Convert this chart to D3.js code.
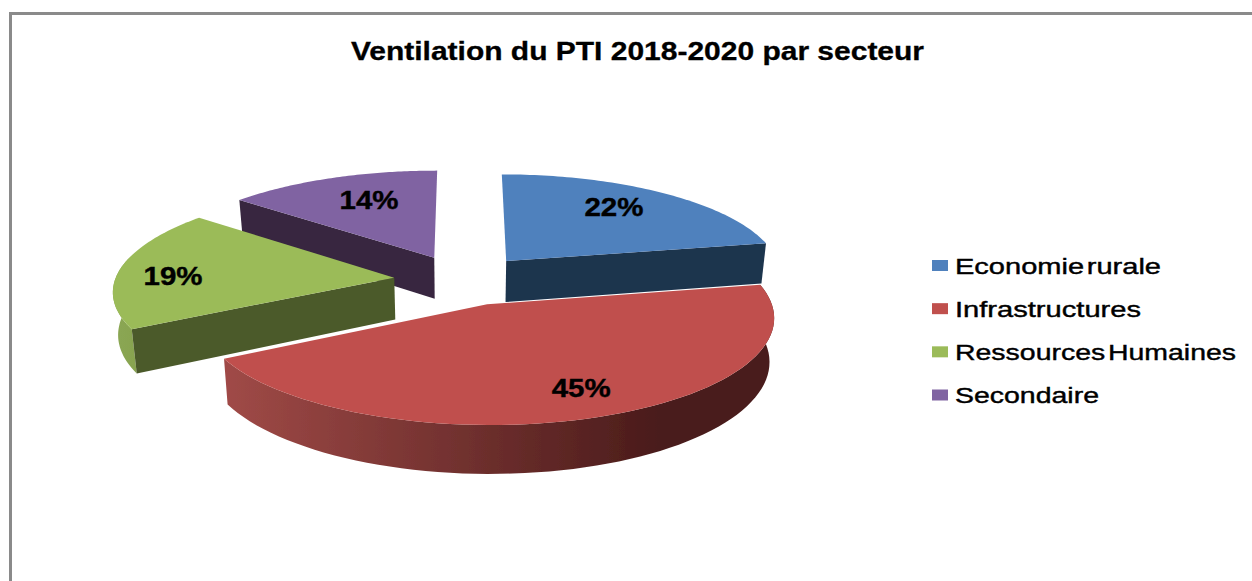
<!DOCTYPE html>
<html><head><meta charset="utf-8">
<script src="https://cdn.jsdelivr.net/npm/d3@7/dist/d3.min.js"></script>
<style>html,body{margin:0;padding:0;background:#fff;overflow:hidden}svg{display:block}text{font-family:"Liberation Sans",Arial,sans-serif;fill:#000}</style>
</head><body><svg id="c" width="1252" height="581"></svg>
<script>
const titleText = "Ventilation du PTI 2018-2020 par secteur";
const categories = ["Economie rurale", "Infrastructures", "Ressources Humaines", "Secondaire"];
const values = [22, 45, 19, 14];
const topColors = ["#4f81bd", "#c0504d", "#9bbb59", "#8064a2"];
const faceColors = ["#1f344e", "#4a1c1b", "#4c5a2a", "#37263f"];
const rimStops = [["#1f344e","#1f344e"], ["#a04a47","#491b1a"], ["#8ba753","#7f9a48"], ["#37263f","#37263f"]];
const labelAngle = [36, 157.6, 271.2, 337.6];
const labelRadius = [0.74, 0.775, 0.803, 0.70];
const sliceRadius = [1, 1, 1.008, 1.015];
const legendTextWidth = [206, 186, 281, 144];

const W = 1252, H = 581;
const svg = d3.select("#c");
const defs = svg.append("defs");
const blur = defs.append("filter").attr("id","soft").attr("x","-5%").attr("y","-5%").attr("width","110%").attr("height","110%");
blur.append("feGaussianBlur").attr("stdDeviation",0.45);

const cx = 463, cy = 280, rx = 277, ry = 100.7, persp = 0.115, explode = 0.25, depth = 42, bottomShrink = 0.985;

function project(X, Z, down) {
  const s = 1 / (1 + persp * Z);
  const x = cx + rx * X * s * (down ? bottomShrink : 1);
  const y = cy - ry * Z * s + (down ? depth * s : 0);
  return [x, y];
}

// frame
svg.append("path").attr("d", d3.line()([[10.5, H], [10.5, 13.5], [W, 13.5]]))
  .attr("fill","none").attr("stroke","#8a8a8a").attr("stroke-width",3);

const slices = d3.pie().sort(null).value(d => d).startAngle(0).endAngle(2 * Math.PI)(values);
const line = d3.line();
const pie = svg.append("g").attr("filter","url(#soft)");

function geom(d) {
  const mid = (d.startAngle + d.endAngle) / 2;
  const ox = explode * Math.sin(mid), oz = explode * Math.cos(mid);
  const rim = d3.range(0, 73).map(i => d.startAngle + (d.endAngle - d.startAngle) * i / 72);
  const pt = (a, r, down) => project(ox + r * Math.sin(a), oz + r * Math.cos(a), down);
  return {ox, oz, rim, pt};
}

// painter order: back slices first, the front slice last
[3, 0, 2, 1].forEach(i => {
  const d = slices[i], g = geom(d), R = sliceRadius[i];
  const gradId = "rim" + i;
  const xs = g.rim.map(a => g.pt(a, R, false)[0]);
  const gr = defs.append("linearGradient").attr("id", gradId).attr("gradientUnits","userSpaceOnUse")
    .attr("x1", d3.min(xs)).attr("x2", d3.max(xs)).attr("y1", 0).attr("y2", 0);
  gr.append("stop").attr("offset", 0).attr("stop-color", rimStops[i][0]);
  if (i === 1) gr.append("stop").attr("offset", 0.8).attr("stop-color", rimStops[i][1]);
  gr.append("stop").attr("offset", 1).attr("stop-color", rimStops[i][1]);

  // outer wall: only the part of the rim facing the viewer
  const front = g.rim.filter(a => Math.cos(a) < 0.2);
  if (front.length > 1) {
    const rimPoly = front.map(a => g.pt(a, R, false)).concat(front.slice().reverse().map(a => g.pt(a, R, true)));
    pie.append("path").attr("d", line(rimPoly) + "Z").attr("fill", `url(#${gradId})`);
  }
  // radial cut faces: only those turned towards the viewer
  const visible = [];
  if (Math.sin(d.startAngle) < -1e-6) visible.push(d.startAngle);
  if (Math.sin(d.endAngle) > 1e-6) visible.push(d.endAngle);
  visible.forEach(a => {
    const face = [g.pt(a, 0, false), g.pt(a, R, false), g.pt(a, R, true), g.pt(a, 0, true)];
    pie.append("path").attr("d", line(face) + "Z").attr("fill", faceColors[i]);
  });
  // top
  const top = [g.pt(0, 0, false)].concat(g.rim.map(a => g.pt(a, R, false)));
  pie.append("path").attr("d", line(top) + "Z").attr("fill", topColors[i]);
});

// data labels
slices.forEach((d, i) => {
  const g = geom(d), a = labelAngle[i] * Math.PI / 180;
  const p = g.pt(a, labelRadius[i], false);
  const label = d3.format(".0%")(d.value / d3.sum(values));
  svg.append("text").attr("x", p[0]).attr("y", p[1] + 9).attr("text-anchor","middle")
    .attr("font-size", 25).attr("font-weight","bold").attr("stroke","#000").attr("stroke-width",0.4)
    .attr("textLength", 59).attr("lengthAdjust","spacingAndGlyphs").text(label);
});

// title
svg.append("text").attr("x", 637.5).attr("y", 60).attr("text-anchor","middle")
  .attr("font-size", 25).attr("font-weight","bold").attr("stroke","#000").attr("stroke-width",0.3)
  .attr("textLength", 573).attr("lengthAdjust","spacingAndGlyphs").text(titleText);

// legend
const rowY = d3.scalePoint().domain(categories).range([265.5, 395]);
categories.forEach((c, i) => {
  const y = rowY(c);
  svg.append("rect").attr("x", 932).attr("y", y - 5.5).attr("width", 16).attr("height", 11).attr("fill", topColors[i]);
  svg.append("text").attr("x", 955).attr("y", y + 8).attr("font-size", 22).attr("stroke","#000").attr("stroke-width",0.4)
    .attr("word-spacing", -4)
    .attr("textLength", legendTextWidth[i]).attr("lengthAdjust","spacingAndGlyphs").text(c);
});
</script></body></html>
